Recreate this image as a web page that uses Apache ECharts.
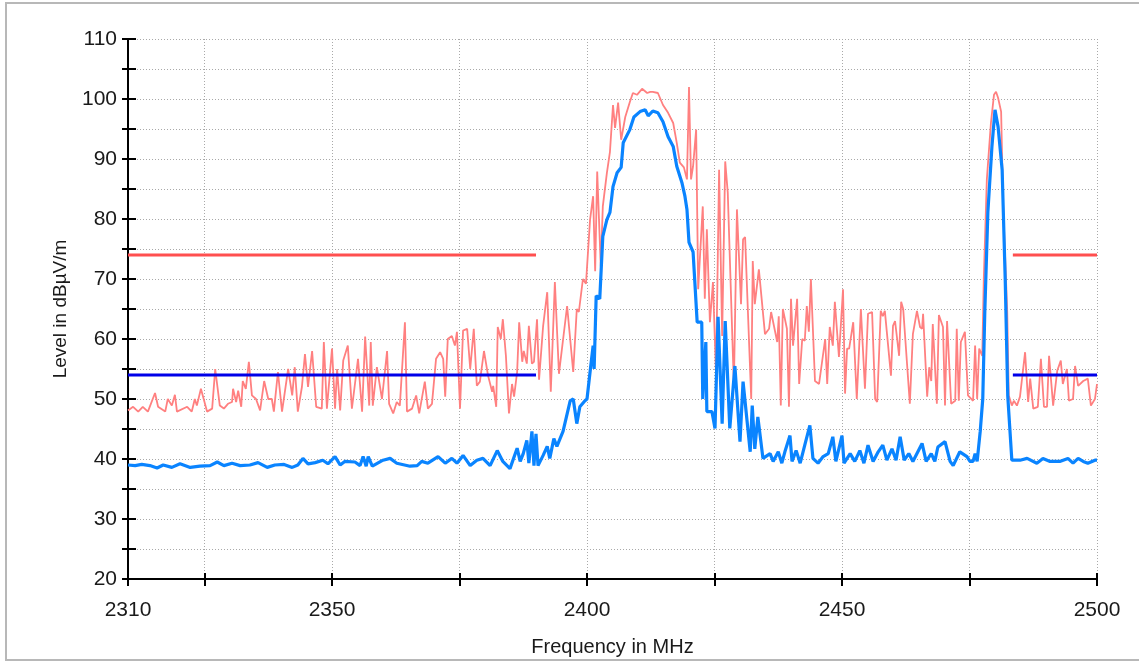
<!DOCTYPE html>
<html>
<head>
<meta charset="utf-8">
<script src="https://cdn.jsdelivr.net/npm/echarts@6/dist/echarts.min.js"></script>
<style>
  html, body { margin: 0; padding: 0; background: #ffffff; }
  #chart { width: 1139px; height: 662px; }
</style>
</head>
<body>
<div id="chart"></div>
<script>
// Axis ranges and tick positions
const freqMin = 2310, freqMax = 2500;
const levelMin = 20, levelMax = 110, levelStep = 5;
const freqTicks = [2310, 2325, 2350, 2375, 2400, 2425, 2450, 2475, 2500];
const freqLabels = [2310, 2350, 2400, 2450, 2500];
const levelLabels = [20, 30, 40, 50, 60, 70, 80, 90, 100, 110];

// Limits (dBµV/m) and restricted bands (MHz)
const limitPeak = 74;
const limitAvg = 54;
const restrictedBands = [[2310, 2390], [2483.5, 2500]];

// Peak detector trace [MHz, dBµV/m]
const peakTrace = [
  [2310.0,48.1],[2311.0,48.7],[2312.0,47.9],[2312.9,48.7],[2313.9,47.9],[2315.3,51.0],[2315.9,48.7],[2317.3,47.9],[2317.8,50.0],[2318.6,48.9],
  [2319.2,50.7],[2319.6,47.9],[2321.6,48.7],[2322.5,47.9],[2323.1,50.0],[2323.5,48.9],[2324.3,51.7],[2325.5,47.9],[2326.5,48.4],[2327.1,55.0],
  [2328.0,48.9],[2328.8,48.4],[2329.6,49.2],[2330.4,49.5],[2330.6,51.7],[2331.2,49.5],[2331.6,51.4],[2332.2,48.7],[2332.5,53.0],[2333.1,51.7],
  [2333.7,56.2],[2334.3,50.6],[2335.1,50.0],[2335.9,48.1],[2336.7,53.0],[2337.5,50.0],[2338.2,50.0],[2338.6,47.9],[2339.4,54.5],[2340.2,47.9],
  [2341.4,55.0],[2342.2,50.6],[2342.7,55.3],[2343.3,47.9],[2344.1,52.0],[2344.7,57.5],[2345.3,52.0],[2346.1,58.0],[2346.9,48.7],[2348.0,48.4],
  [2348.4,59.5],[2349.0,48.4],[2350.0,58.4],[2350.6,48.4],[2351.0,55.0],[2351.6,48.1],[2352.2,56.4],[2353.1,58.9],[2353.9,48.4],[2354.5,52.5],
  [2355.1,56.7],[2355.9,47.9],[2356.5,60.4],[2357.3,48.9],[2357.6,59.5],[2358.0,48.9],[2358.8,55.3],[2359.8,50.0],[2360.8,58.0],[2361.2,49.2],
  [2362.0,47.6],[2362.7,49.5],[2363.3,48.9],[2364.3,62.8],[2364.7,47.9],[2365.7,48.4],[2366.5,50.6],[2367.1,47.6],[2368.2,52.9],[2368.8,48.4],
  [2369.6,49.2],[2370.4,56.7],[2371.2,57.8],[2371.8,56.7],[2372.2,50.4],[2372.7,60.0],[2373.5,60.5],[2374.1,58.9],[2374.5,61.2],[2375.1,48.4],
  [2375.7,61.4],[2376.5,61.7],[2377.1,55.0],[2377.8,61.7],[2378.4,52.2],[2379.0,52.9],[2379.8,58.0],[2380.6,53.9],[2381.4,51.2],[2381.6,52.2],
  [2382.2,48.7],[2382.5,62.0],[2383.1,60.0],[2383.5,63.3],[2384.1,57.2],[2384.7,47.6],[2385.3,52.5],[2385.7,50.4],[2386.3,54.5],[2386.7,62.8],
  [2387.3,56.2],[2387.6,58.0],[2388.2,55.9],[2388.6,62.2],[2389.2,55.9],[2389.6,56.2],[2390.2,63.3],[2390.6,53.2],[2391.4,62.2],[2392.2,67.8],
  [2392.9,51.2],[2393.7,69.5],[2394.5,54.2],[2396.1,65.5],[2397.3,54.5],[2398.0,65.0],[2398.4,64.5],[2399.2,70.0],[2399.8,69.2],[2400.6,79.9],
  [2401.2,83.8],[2401.6,71.3],[2402.0,87.9],[2402.7,72.1],[2403.1,82.1],[2403.9,87.7],[2404.5,91.2],[2405.1,99.0],[2405.5,95.2],[2406.1,99.4],
  [2406.7,93.2],[2407.5,97.0],[2408.4,99.5],[2409.0,101.0],[2409.8,100.7],[2410.8,101.7],[2411.8,101.0],[2412.4,101.2],[2412.9,101.2],[2413.9,101.0],
  [2414.9,99.0],[2415.9,97.7],[2416.9,96.0],[2417.6,92.7],[2418.2,89.4],[2419.0,88.6],[2419.6,86.6],[2420.0,102.0],[2420.4,86.6],[2420.8,88.8],
  [2421.4,94.9],[2421.8,68.3],[2422.7,82.1],[2423.1,66.7],[2423.5,78.3],[2424.1,62.8],[2424.7,69.5],[2425.3,53.9],[2425.9,88.2],[2426.5,60.5],
  [2427.1,89.6],[2427.6,84.4],[2428.8,52.2],[2429.4,81.6],[2430.2,65.8],[2430.6,76.6],[2431.0,77.0],[2432.2,50.0],[2432.5,73.0],[2432.9,65.8],
  [2433.7,71.6],[2434.9,60.8],[2435.7,61.7],[2436.1,64.5],[2437.3,59.5],[2437.6,63.8],[2438.0,48.9],[2438.4,65.0],[2439.2,61.7],[2439.6,48.7],
  [2440.0,66.7],[2440.4,58.9],[2441.2,66.7],[2441.6,52.5],[2442.2,60.0],[2442.7,59.7],[2443.1,65.5],[2443.5,61.2],[2443.9,70.0],[2444.7,53.0],
  [2445.5,52.5],[2446.7,60.0],[2447.1,52.5],[2447.6,62.0],[2448.2,58.9],[2448.6,66.2],[2449.4,57.0],[2450.2,68.3],[2450.6,50.9],[2451.0,58.4],
  [2451.4,58.4],[2452.2,62.8],[2452.9,50.0],[2453.7,65.0],[2454.5,51.7],[2455.1,64.2],[2455.9,64.5],[2456.5,50.0],[2456.9,49.5],[2457.6,64.7],
  [2458.0,63.8],[2458.4,64.7],[2459.6,53.9],[2460.0,62.2],[2460.4,63.0],[2461.2,57.2],[2461.6,66.2],[2462.0,65.0],[2463.3,49.2],[2463.9,60.8],
  [2464.7,64.7],[2465.3,62.0],[2465.7,61.7],[2465.9,64.2],[2466.7,50.4],[2467.1,55.3],[2467.5,53.0],[2467.8,62.5],[2468.6,49.2],[2469.0,64.0],
  [2469.8,62.0],[2470.2,48.9],[2470.6,63.0],[2471.4,49.2],[2472.2,49.7],[2472.5,61.7],[2472.9,49.7],[2473.3,59.5],[2474.1,61.2],[2474.7,50.6],
  [2475.7,49.7],[2476.1,58.9],[2476.5,50.0],[2476.9,58.4],[2477.5,57.2],[2477.8,70.0],[2478.4,86.6],[2479.2,96.0],[2479.8,100.7],[2480.2,101.2],
  [2480.6,100.2],[2481.2,97.9],[2481.6,82.1],[2482.4,64.5],[2482.7,50.6],[2483.3,48.9],[2483.7,49.7],[2484.3,48.9],[2484.9,50.4],[2485.9,57.8],
  [2486.5,49.5],[2486.9,53.4],[2487.5,48.4],[2488.4,48.7],[2489.0,56.7],[2489.6,48.7],[2490.2,48.7],[2490.6,57.2],[2491.4,48.9],[2492.2,54.7],
  [2492.9,56.4],[2493.3,52.5],[2494.1,55.0],[2494.5,49.7],[2495.3,50.0],[2495.7,55.5],[2496.3,52.2],[2497.3,53.0],[2498.2,53.4],[2498.8,48.9],
  [2499.6,50.0],[2500.0,52.5]
];

// Average detector trace [MHz, dBµV/m]
const avgTrace = [
  [2310.0,39.0],[2311.4,38.9],[2312.7,39.1],[2314.3,38.9],[2315.7,38.5],[2316.9,39.0],[2318.6,38.6],[2320.2,39.2],[2322.2,38.6],[2324.1,38.8],
  [2326.1,38.9],[2327.5,39.5],[2328.8,38.9],[2330.4,39.3],[2332.0,38.9],[2333.9,39.0],[2335.5,39.4],[2337.3,38.6],[2338.8,39.0],[2340.6,39.1],
  [2342.2,38.6],[2343.3,39.0],[2344.3,40.1],[2345.3,39.2],[2346.7,39.4],[2348.2,39.8],[2349.2,39.2],[2350.6,40.4],[2351.6,39.0],[2352.5,39.6],
  [2354.5,39.5],[2355.5,38.9],[2356.1,40.4],[2356.7,38.8],[2357.1,40.4],[2357.9,38.8],[2360.0,39.8],[2361.4,40.1],[2362.7,39.3],[2365.3,38.8],
  [2366.7,38.9],[2367.6,39.6],[2368.8,39.3],[2370.8,40.4],[2372.2,39.3],[2373.5,40.1],[2374.5,39.3],[2375.7,40.6],[2377.1,38.9],[2378.4,39.8],
  [2379.6,40.1],[2381.0,38.9],[2382.4,41.4],[2383.5,39.6],[2384.9,38.4],[2386.3,41.8],[2386.9,39.6],[2387.5,40.9],[2388.2,43.1],[2388.6,39.3],
  [2389.2,44.6],[2389.6,38.9],[2390.0,44.2],[2390.4,38.9],[2391.4,40.6],[2392.2,42.1],[2392.7,40.1],[2393.5,43.4],[2394.1,42.1],[2395.3,44.6],
  [2396.7,49.7],[2397.3,50.0],[2398.0,45.9],[2398.6,48.7],[2399.6,49.7],[2400.0,50.0],[2400.6,54.5],[2401.2,58.9],[2401.4,55.0],[2401.8,67.2],
  [2402.5,66.7],[2403.1,77.1],[2403.9,79.9],[2404.5,81.1],[2405.1,85.4],[2405.9,87.7],[2406.7,88.6],[2407.1,92.7],[2408.4,94.9],[2409.2,97.0],
  [2410.4,97.9],[2411.4,98.2],[2412.0,97.2],[2412.9,98.0],[2413.9,97.7],[2414.9,96.2],[2415.9,93.7],[2416.9,92.1],[2417.6,88.8],[2418.6,86.1],
  [2419.2,83.8],[2419.6,81.6],[2420.0,76.1],[2420.8,74.5],[2421.6,62.8],[2422.5,62.8],[2422.7,50.0],[2423.3,59.5],[2423.5,47.9],[2424.5,47.9],
  [2425.1,45.1],[2425.7,63.7],[2426.5,45.9],[2427.1,63.0],[2428.0,45.1],[2429.0,55.5],[2430.0,42.9],[2430.6,52.9],[2432.0,41.2],[2432.4,48.9],
  [2432.9,41.7],[2433.5,47.0],[2434.5,40.1],[2435.9,40.9],[2436.5,39.6],[2437.5,41.2],[2438.2,39.3],[2438.8,41.2],[2439.8,43.9],[2440.2,39.6],
  [2441.0,41.4],[2441.8,39.3],[2442.7,42.3],[2443.7,45.6],[2444.3,40.1],[2445.3,39.3],[2446.3,40.4],[2447.3,40.9],[2448.2,43.7],[2448.8,39.6],
  [2450.0,43.9],[2450.4,39.3],[2451.6,40.9],[2452.5,39.6],[2453.5,41.4],[2454.3,39.3],[2455.1,42.3],[2456.1,39.6],[2457.1,41.2],[2458.0,42.3],
  [2458.8,39.8],[2459.8,41.7],[2460.6,39.8],[2461.4,43.7],[2462.2,39.8],[2463.1,40.9],[2463.9,39.6],[2465.7,42.6],[2466.5,39.6],[2467.5,40.9],
  [2468.2,39.6],[2468.8,42.0],[2470.2,42.9],[2471.2,39.6],[2471.8,38.9],[2473.1,41.2],[2474.5,40.4],[2475.1,39.6],[2475.7,39.6],[2476.1,40.9],
  [2476.5,39.6],[2477.1,44.6],[2477.6,50.0],[2478.0,64.5],[2478.6,81.1],[2479.4,92.1],[2480.0,98.2],[2480.6,95.4],[2481.4,88.2],[2482.0,70.0],
  [2482.5,50.5],[2483.3,39.8],[2484.9,39.8],[2486.3,40.1],[2488.2,39.3],[2489.4,40.1],[2490.8,39.6],[2492.7,39.6],[2494.3,40.1],[2495.3,39.3],
  [2496.3,40.1],[2497.3,39.6],[2498.2,39.3],[2499.6,39.8],[2500.0,39.8]
];

const FONT = 'Liberation Sans';
const TEXT = '#1a1a1a';
const gridStyle = { type: [1, 2], color: '#a9a9a9', width: 1 };
const axisStroke = { color: '#000000', width: 2 };
const plainNumber = v => String(v);

// Limit line segments, one per restricted band
function limitSeries(level, color, name) {
  return restrictedBands.map((band, i) => ({
    name: name + ' ' + (i + 1),
    type: 'line',
    xAxisIndex: 0,
    yAxisIndex: 0,
    data: [[band[0], level], [band[1], level]],
    showSymbol: false,
    silent: true,
    lineStyle: { color: color, width: 3 },
    z: 5
  }));
}

const chart = echarts.init(document.getElementById('chart'), null, { renderer: 'canvas' });

chart.setOption({
  animation: false,
  backgroundColor: '#ffffff',
  graphic: [{
    type: 'rect',
    shape: { x: 6, y: 3, width: 1200, height: 657 },
    style: { fill: 'none', stroke: '#b8b8b8', lineWidth: 2 },
    silent: true,
    z: -10
  }],
  grid: { left: 128, top: 39, right: 42, bottom: 81, containLabel: false },
  xAxis: [
    {
      type: 'value', min: freqMin, max: freqMax, position: 'bottom',
      name: 'Frequency in MHz', nameLocation: 'middle', nameGap: 58,
      nameTextStyle: { fontFamily: FONT, fontSize: 20, color: TEXT },
      axisLine: { show: true, onZero: false, lineStyle: axisStroke },
      axisTick: { show: true, customValues: freqTicks, length: 7, lineStyle: axisStroke },
      axisLabel: { customValues: freqLabels, formatter: plainNumber, margin: 21, fontFamily: FONT, fontSize: 21, color: TEXT },
      splitLine: { show: true, lineStyle: gridStyle }
    },
    {
      type: 'value', min: freqMin, max: freqMax, position: 'bottom',
      axisLine: { show: false, onZero: false },
      axisTick: { show: true, inside: true, customValues: freqTicks, length: 6, lineStyle: axisStroke },
      axisLabel: { show: false },
      splitLine: { show: false }
    }
  ],
  yAxis: [
    {
      type: 'value', min: levelMin, max: levelMax, interval: levelStep, position: 'left',
      name: 'Level in dBµV/m', nameLocation: 'middle', nameGap: 58,
      nameTextStyle: { fontFamily: FONT, fontSize: 19, color: TEXT },
      axisLine: { show: true, onZero: false, lineStyle: axisStroke },
      axisTick: { show: true, length: 6, lineStyle: axisStroke },
      axisLabel: { customValues: levelLabels, formatter: plainNumber, margin: 11, fontFamily: FONT, fontSize: 21, color: TEXT },
      splitLine: { show: true, lineStyle: gridStyle }
    },
    {
      type: 'value', min: levelMin, max: levelMax, interval: levelStep, position: 'left',
      axisLine: { show: false, onZero: false },
      axisTick: { show: true, inside: true, length: 8, lineStyle: axisStroke },
      axisLabel: { show: false },
      splitLine: { show: false }
    }
  ],
  series: [
    {
      name: 'Peak',
      type: 'line',
      xAxisIndex: 0, yAxisIndex: 0,
      data: peakTrace,
      showSymbol: false,
      silent: true,
      lineStyle: { color: '#ff8080', width: 1.8 },
      z: 2
    },
    {
      name: 'Average',
      type: 'line',
      xAxisIndex: 0, yAxisIndex: 0,
      data: avgTrace,
      showSymbol: false,
      silent: true,
      lineStyle: { color: '#0a84ff', width: 3.2 },
      z: 3
    },
    ...limitSeries(limitPeak, '#ff4f4f', 'Peak limit'),
    ...limitSeries(limitAvg, '#0000e8', 'Average limit')
  ]
});
</script>
</body>
</html>
